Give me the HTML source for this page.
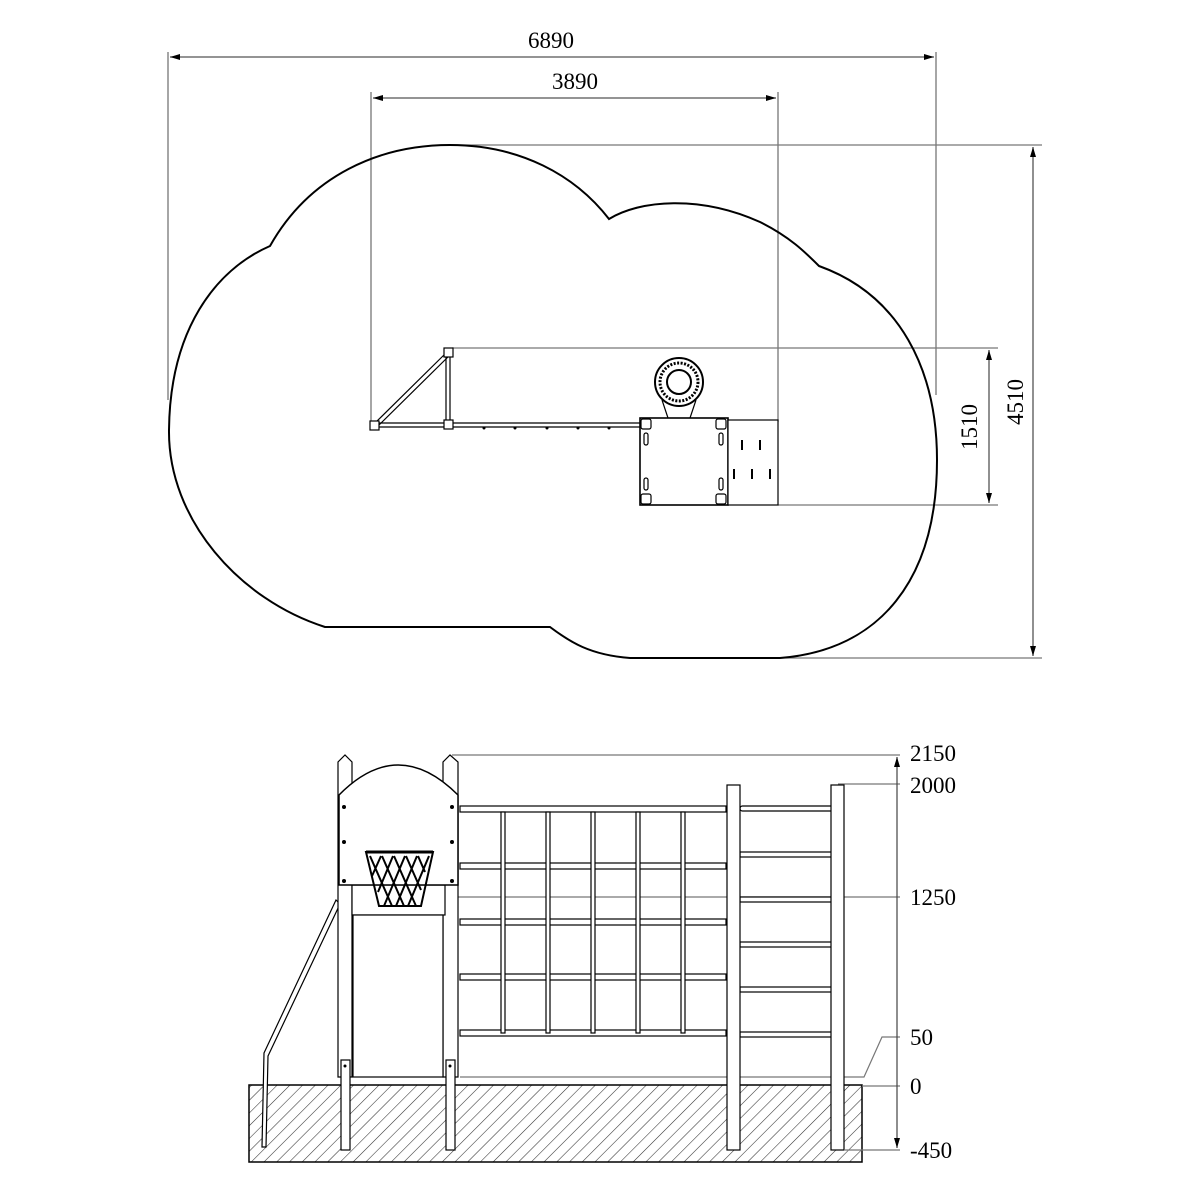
<!DOCTYPE html>
<html><head><meta charset="utf-8"><style>html,body{margin:0;padding:0;background:#fff}svg{display:block}</style></head>
<body>
<svg width="1200" height="1200" viewBox="0 0 1200 1200" xmlns="http://www.w3.org/2000/svg" font-family="Liberation Serif, serif">
<defs>
<marker id="a" viewBox="0 0 10 6" refX="10" refY="3" markerWidth="10" markerHeight="6" orient="auto-start-reverse" markerUnits="userSpaceOnUse"><path d="M0,0 L10,3 L0,6 Z" fill="#000"/></marker>
<pattern id="h" width="9" height="9" patternUnits="userSpaceOnUse" patternTransform="rotate(45)"><line x1="0" y1="0" x2="0" y2="9" stroke="#333" stroke-width="1.1"/></pattern>
</defs>
<g stroke="#777" stroke-width="1.3" fill="none">
<line x1="168" y1="52" x2="168" y2="400"/>
<line x1="936" y1="52" x2="936" y2="395"/>
<line x1="371" y1="92" x2="371" y2="425"/>
<line x1="778" y1="92" x2="778" y2="422"/>
<line x1="452" y1="145" x2="1042" y2="145"/>
<line x1="770" y1="658" x2="1042" y2="658"/>
<line x1="452" y1="348" x2="998" y2="348"/>
<line x1="778" y1="505" x2="998" y2="505"/>
</g>
<g stroke="#555" stroke-width="1.3">
<line x1="170" y1="57" x2="934" y2="57" marker-start="url(#a)" marker-end="url(#a)"/>
<line x1="373" y1="98" x2="776" y2="98" marker-start="url(#a)" marker-end="url(#a)"/>
<line x1="1033" y1="147" x2="1033" y2="656" marker-start="url(#a)" marker-end="url(#a)"/>
<line x1="989" y1="350" x2="989" y2="503" marker-start="url(#a)" marker-end="url(#a)"/>
</g>
<g font-size="23" fill="#000" text-anchor="middle">
<text x="551" y="48">6890</text>
<text x="575" y="89">3890</text>
<text transform="translate(977,427) rotate(-90)">1510</text>
<text transform="translate(1023,402) rotate(-90)">4510</text>
</g>
<path d="M325 627 C240 600 168 520 169 430 C170 330 215 270 270 246 C310 175 380 145 450 145 C520 145 575 175 609 219 C640 200 700 195 760 222 C790 237 805 252 819 266 C900 295 937 370 937 460 C937 580 880 650 780 658 L630 658 C590 655 570 642 550 627 Z" fill="none" stroke="#000" stroke-width="2"/>
<g stroke="#000" stroke-width="1.2" fill="#fff">
<line x1="374" y1="424" x2="447" y2="352"/><line x1="378" y1="426" x2="450" y2="355"/>
<line x1="446" y1="353" x2="446" y2="424"/><line x1="450" y1="353" x2="450" y2="424"/>
<line x1="374" y1="423" x2="640" y2="423"/><line x1="374" y1="427" x2="640" y2="427"/>
<rect x="370" y="421" width="9" height="9"/><rect x="444" y="348" width="9" height="9"/><rect x="444" y="420" width="9" height="9"/>
<rect x="640" y="418" width="88" height="87" stroke-width="1.6"/>
<rect x="728" y="420" width="50" height="85"/>
<path d="M668 418 L662 400 M690 418 L696 400" fill="none"/>
<circle cx="679" cy="382" r="24" stroke-width="2"/>
<circle cx="679" cy="382" r="19" stroke-width="3" stroke-dasharray="2 1.5"/>
<circle cx="679" cy="382" r="12" stroke-width="2"/>
<rect x="641" y="419" width="10" height="10" rx="2"/><rect x="716" y="419" width="10" height="10" rx="2"/>
<rect x="641" y="494" width="10" height="10" rx="2"/><rect x="716" y="494" width="10" height="10" rx="2"/>
<rect x="644" y="433" width="4" height="12" rx="2"/><rect x="719" y="433" width="4" height="12" rx="2"/>
<rect x="644" y="478" width="4" height="12" rx="2"/><rect x="719" y="478" width="4" height="12" rx="2"/>
</g>
<g fill="#000">
<circle cx="484" cy="428" r="1.5"/><circle cx="515" cy="428" r="1.5"/><circle cx="547" cy="428" r="1.5"/><circle cx="578" cy="428" r="1.5"/><circle cx="609" cy="428" r="1.5"/>
<rect x="741" y="440" width="2" height="10"/><rect x="759" y="440" width="2" height="10"/>
<rect x="733" y="469" width="2" height="10"/><rect x="751" y="469" width="2" height="10"/><rect x="769" y="469" width="2" height="10"/>
</g>
<rect x="249" y="1085" width="613" height="77" fill="url(#h)" stroke="#000" stroke-width="1.5"/>
<g stroke="#777" stroke-width="1.2" fill="none">
<line x1="452" y1="755" x2="900" y2="755"/>
<line x1="838" y1="784" x2="900" y2="784"/>
<line x1="355" y1="897" x2="900" y2="897"/>
<polyline points="460,1077 864,1077 882,1037 900,1037"/>
<line x1="862" y1="1086" x2="900" y2="1086"/>
<line x1="845" y1="1150" x2="900" y2="1150"/>
<line x1="897" y1="757" x2="897" y2="1148" stroke="#444" marker-start="url(#a)" marker-end="url(#a)"/>
</g>
<g font-size="23" fill="#000">
<text x="910" y="761">2150</text><text x="910" y="793">2000</text><text x="910" y="905">1250</text>
<text x="910" y="1045">50</text><text x="910" y="1094">0</text><text x="910" y="1158">-450</text>
</g>
<g stroke="#000" stroke-width="1.2" fill="#fff">
<path d="M336 900 L264 1053 L262 1147 L266 1147 L268 1056 L340 904 Z"/>
<path d="M338 1077 L338 762 L345 755 L352 762 L352 1077 Z"/>
<path d="M443 1077 L443 762 L450 755 L458 762 L458 1077 Z"/>
<rect x="341" y="1060" width="9" height="90"/><rect x="446" y="1060" width="9" height="90"/>
<rect x="352" y="885" width="93" height="30"/>
<rect x="353" y="915" width="90" height="162"/>
<path d="M339 885 L339 795 Q398 735 458 795 L458 885 Z" stroke-width="1.5"/>
<rect x="460" y="806" width="266" height="6"/><rect x="460" y="863" width="266" height="6"/><rect x="460" y="919" width="266" height="6"/>
<rect x="460" y="974" width="266" height="6"/><rect x="460" y="1030" width="266" height="6"/>
<rect x="501" y="812" width="4" height="221"/><rect x="546" y="812" width="4" height="221"/><rect x="591" y="812" width="4" height="221"/>
<rect x="636" y="812" width="4" height="221"/><rect x="681" y="812" width="4" height="221"/>
<rect x="740" y="806" width="100" height="5" rx="2.5"/>
<rect x="740" y="852" width="92" height="5"/><rect x="740" y="897" width="92" height="5"/><rect x="740" y="942" width="92" height="5"/>
<rect x="740" y="987" width="92" height="5"/><rect x="740" y="1032" width="92" height="5"/>
<rect x="727" y="785" width="13" height="365"/><rect x="831" y="785" width="13" height="365"/>
</g>
<g stroke="#000" stroke-width="2" fill="none">
<path d="M366 852 L433 852 L421 906 L379 906 Z" stroke-width="2"/>
<path d="M370 856 L392 906 M382 856 L404 906 M394 856 L416 906 M406 856 L421 890 M418 856 L425 872 M429 856 L408 906 M417 856 L396 906 M405 856 L384 906 M393 856 L378 892 M381 856 L372 876"/>
<line x1="366" y1="852" x2="433" y2="852" stroke-width="3"/>
</g>
<g fill="#000">
<circle cx="344" cy="807" r="2"/><circle cx="452" cy="807" r="2"/><circle cx="344" cy="842" r="2"/><circle cx="452" cy="842" r="2"/><circle cx="344" cy="881" r="2"/><circle cx="452" cy="881" r="2"/>
<circle cx="345" cy="1066" r="1.5"/><circle cx="450" cy="1066" r="1.5"/>
</g>
</svg>
</body></html>
